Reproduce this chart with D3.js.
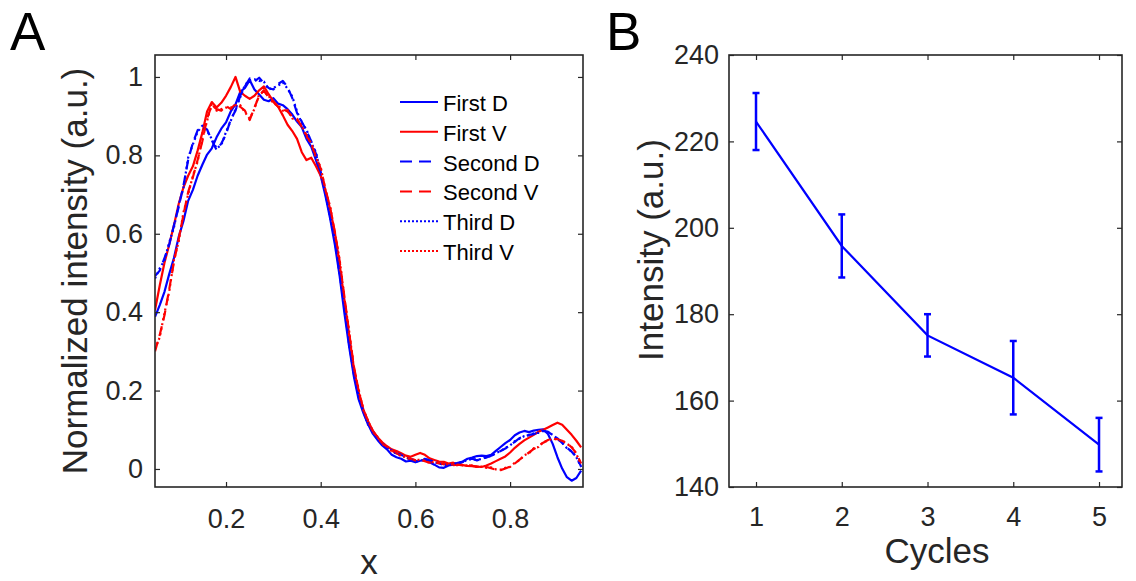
<!DOCTYPE html>
<html>
<head>
<meta charset="utf-8">
<script src="https://cdn.jsdelivr.net/npm/d3@7"></script>
<style>
  body { margin: 0; background: #fff; }
  svg { display: block; font-family: "Liberation Sans", Arial, sans-serif; }
  .tick text { fill: #262626; }
</style>
</head>
<body>
<svg id="chart" width="1136" height="581"></svg>
<script>
// ---- panel A data: profile position and the six normalized intensity traces ----
const xs = [0.05, 0.06, 0.07, 0.08, 0.09, 0.10, 0.11, 0.12, 0.13, 0.14,
  0.15, 0.16, 0.17, 0.18, 0.19, 0.20, 0.21, 0.22, 0.23, 0.24,
  0.25, 0.26, 0.27, 0.28, 0.29, 0.30, 0.31, 0.32, 0.33, 0.34,
  0.35, 0.36, 0.37, 0.38, 0.39, 0.40, 0.41, 0.42, 0.43, 0.44,
  0.45, 0.46, 0.47, 0.48, 0.49, 0.50, 0.51, 0.52, 0.53, 0.54,
  0.55, 0.56, 0.57, 0.58, 0.59, 0.60, 0.61, 0.62, 0.63, 0.64,
  0.65, 0.66, 0.67, 0.68, 0.69, 0.70, 0.71, 0.72, 0.73, 0.74,
  0.75, 0.76, 0.77, 0.78, 0.79, 0.80, 0.81, 0.82, 0.83, 0.84,
  0.85, 0.86, 0.87, 0.88, 0.89, 0.90, 0.91, 0.92, 0.93, 0.94, 0.95];

const firstD = [0.388, 0.418, 0.452, 0.497, 0.538, 0.592, 0.632, 0.684, 0.712, 0.748,
  0.776, 0.802, 0.818, 0.846, 0.868, 0.884, 0.912, 0.93, 0.962, 0.972,
  0.992, 0.968, 0.955, 0.942, 0.938, 0.946, 0.932, 0.928, 0.918, 0.904,
  0.886, 0.872, 0.842, 0.822, 0.788, 0.748, 0.697, 0.638, 0.572, 0.492,
  0.398, 0.312, 0.236, 0.178, 0.143, 0.114, 0.09, 0.074, 0.06, 0.05,
  0.036, 0.03, 0.026, 0.019, 0.021, 0.017, 0.021, 0.023, 0.017, 0.011,
  0.004, 0.003, 0.009, 0.011, 0.016, 0.019, 0.026, 0.029, 0.033, 0.034,
  0.033, 0.036, 0.046, 0.056, 0.066, 0.074, 0.086, 0.093, 0.097, 0.094,
  0.098, 0.1, 0.101, 0.089, 0.064, 0.03, 0.001, -0.021, -0.03, -0.023, -0.004];

const firstV = [0.405, 0.468, 0.526, 0.572, 0.622, 0.676, 0.718, 0.748, 0.772, 0.812,
  0.858, 0.912, 0.936, 0.922, 0.934, 0.952, 0.974, 1.0, 0.962, 0.952,
  0.944, 0.952, 0.966, 0.976, 0.956, 0.938, 0.924, 0.902, 0.878, 0.862,
  0.842, 0.808, 0.788, 0.794, 0.772, 0.748, 0.712, 0.662, 0.602, 0.522,
  0.432, 0.342, 0.258, 0.196, 0.152, 0.122, 0.098, 0.081, 0.068, 0.058,
  0.05, 0.046, 0.04, 0.034, 0.031, 0.036, 0.041, 0.036, 0.027, 0.023,
  0.019, 0.018, 0.014, 0.016, 0.012, 0.01, 0.008, 0.007, 0.006, 0.005,
  0.009, 0.014, 0.02, 0.026, 0.032, 0.042, 0.054, 0.064, 0.073, 0.08,
  0.087, 0.095, 0.1, 0.106, 0.112, 0.118, 0.113, 0.1, 0.087, 0.072, 0.055];

const secondD = [0.492, 0.506, 0.538, 0.572, 0.622, 0.668, 0.722, 0.788, 0.832, 0.864,
  0.872, 0.866, 0.838, 0.814, 0.83, 0.854, 0.892, 0.914, 0.952, 0.976,
  0.996, 0.988, 0.998, 0.984, 0.972, 0.968, 0.982, 0.99, 0.974, 0.946,
  0.908, 0.886, 0.862, 0.836, 0.804, 0.758, 0.702, 0.646, 0.582, 0.502,
  0.412, 0.322, 0.242, 0.186, 0.146, 0.116, 0.093, 0.078, 0.064, 0.054,
  0.046, 0.04, 0.036, 0.029, 0.025, 0.021, 0.019, 0.026, 0.022, 0.018,
  0.014, 0.012, 0.01, 0.013, 0.014, 0.018, 0.023, 0.026, 0.022, 0.026,
  0.029, 0.034, 0.039, 0.046, 0.052, 0.061, 0.069, 0.079, 0.082, 0.087,
  0.089, 0.093, 0.097, 0.095, 0.086, 0.078, 0.066, 0.054, 0.044, 0.031, 0.006];

const secondV = [0.3, 0.342, 0.392, 0.458, 0.528, 0.586, 0.648, 0.706, 0.744, 0.788,
  0.836, 0.894, 0.928, 0.918, 0.914, 0.926, 0.918, 0.932, 0.924, 0.914,
  0.89, 0.922, 0.952, 0.966, 0.948, 0.936, 0.924, 0.918, 0.912, 0.898,
  0.894, 0.872, 0.852, 0.828, 0.798, 0.766, 0.714, 0.666, 0.604, 0.53,
  0.44, 0.348, 0.262, 0.2, 0.153, 0.121, 0.097, 0.08, 0.066, 0.056,
  0.047, 0.04, 0.034, 0.029, 0.026, 0.022, 0.025, 0.02, 0.016, 0.018,
  0.015, 0.012, 0.013, 0.01, 0.011, 0.009, 0.01, 0.008, 0.006, 0.004,
  0.005, 0.002, -0.002, -0.003, 0.001, 0.006, 0.014, 0.024, 0.033, 0.042,
  0.051, 0.058, 0.067, 0.074, 0.077, 0.076, 0.072, 0.066, 0.055, 0.04, 0.014];

const thirdD = [0.486, 0.512, 0.532, 0.578, 0.616, 0.674, 0.716, 0.794, 0.828, 0.86,
  0.876, 0.862, 0.842, 0.818, 0.826, 0.86, 0.888, 0.918, 0.948, 0.98,
  0.992, 0.994, 0.99, 0.988, 0.968, 0.972, 0.978, 0.986, 0.97, 0.95,
  0.912, 0.882, 0.866, 0.832, 0.808, 0.754, 0.706, 0.642, 0.586, 0.498,
  0.416, 0.318, 0.246, 0.182, 0.148, 0.113, 0.095, 0.076, 0.066, 0.052,
  0.048, 0.038, 0.037, 0.027, 0.026, 0.019, 0.021, 0.024, 0.023, 0.016,
  0.015, 0.01, 0.011, 0.012, 0.016, 0.017, 0.024, 0.025, 0.024, 0.025,
  0.031, 0.033, 0.041, 0.045, 0.054, 0.06, 0.071, 0.077, 0.084, 0.086,
  0.091, 0.092, 0.098, 0.094, 0.087, 0.077, 0.067, 0.053, 0.045, 0.03, 0.005];

const thirdV = [0.306, 0.336, 0.398, 0.452, 0.534, 0.58, 0.654, 0.7, 0.748, 0.784,
  0.842, 0.888, 0.932, 0.914, 0.918, 0.922, 0.922, 0.928, 0.928, 0.91,
  0.894, 0.918, 0.956, 0.962, 0.952, 0.932, 0.928, 0.914, 0.916, 0.894,
  0.89, 0.876, 0.848, 0.832, 0.794, 0.77, 0.71, 0.67, 0.6, 0.534,
  0.436, 0.352, 0.258, 0.204, 0.15, 0.123, 0.095, 0.082, 0.064, 0.057,
  0.045, 0.042, 0.032, 0.031, 0.024, 0.024, 0.023, 0.021, 0.015, 0.019,
  0.013, 0.014, 0.011, 0.012, 0.009, 0.011, 0.008, 0.009, 0.005, 0.006,
  0.003, 0.004, -0.001, -0.002, 0.003, 0.005, 0.016, 0.022, 0.035, 0.04,
  0.053, 0.056, 0.069, 0.072, 0.078, 0.074, 0.073, 0.064, 0.057, 0.038, 0.012];

const seriesNames = ["First D", "First V", "Second D", "Second V", "Third D", "Third V"];
const seriesValues = [firstD, firstV, secondD, secondV, thirdD, thirdV];

const aXTicks = [0.2, 0.4, 0.6, 0.8];
const aYTicks = [0, 0.2, 0.4, 0.6, 0.8, 1];

// ---- panel B data ----
const cycles = [1, 2, 3, 4, 5];
const intensity = [224.6, 195.8, 175.1, 165.3, 149.8];
const intensityErr = [6.6, 7.3, 4.9, 8.5, 6.2];
const bXTicks = [1, 2, 3, 4, 5];
const bYTicks = [140, 160, 180, 200, 220, 240];

// styles
const axisColor = "#262626";
const seriesStyle = [
  { color: "#0000ff", dash: null, legendDash: null },
  { color: "#ff0000", dash: null, legendDash: null },
  { color: "#0000ff", dash: "10,6", legendDash: "12,7" },
  { color: "#ff0000", dash: "10,6", legendDash: "12,7" },
  { color: "#0000ff", dash: "2,3", legendDash: "2,2" },
  { color: "#ff0000", dash: "2,3", legendDash: "2,2" }
];

const svg = d3.select("#chart");
svg.append("rect").attr("width", 1136).attr("height", 581).attr("fill", "#fff");

function styleAxis(g) {
  g.select(".domain").remove();
  g.selectAll(".tick line").attr("stroke", axisColor).attr("stroke-width", 1.2);
  g.selectAll(".tick text").style("font-size", "27px");
}

function drawFrame(x, y, xTicks, yTicks, opts) {
  const [x0, x1] = x.range();
  const [y0, y1] = y.range();
  const fmt = d => String(d);

  svg.append("g")
    .attr("transform", `translate(0,${y0})`)
    .call(d3.axisBottom(x).tickValues(xTicks).tickFormat(fmt).tickSizeInner(-5).tickSizeOuter(0).tickPadding(opts.xPad))
    .call(styleAxis);
  svg.append("g")
    .attr("transform", `translate(0,${y1})`)
    .call(d3.axisTop(x).tickValues(xTicks).tickFormat("").tickSizeInner(-5).tickSizeOuter(0))
    .call(styleAxis);
  svg.append("g")
    .attr("transform", `translate(${x0},0)`)
    .call(d3.axisLeft(y).tickValues(yTicks).tickFormat(fmt).tickSizeInner(-5).tickSizeOuter(0).tickPadding(opts.yPad))
    .call(styleAxis);
  svg.append("g")
    .attr("transform", `translate(${x1},0)`)
    .call(d3.axisRight(y).tickValues(yTicks).tickFormat("").tickSizeInner(-5).tickSizeOuter(0))
    .call(styleAxis);

  svg.append("rect")
    .attr("x", x0).attr("y", y1)
    .attr("width", x1 - x0).attr("height", y0 - y1)
    .attr("fill", "none")
    .attr("stroke", axisColor)
    .attr("stroke-width", 1.6);
}

// ================= Panel A =================
const xA = d3.scaleLinear().domain([0.05, 0.954]).range([155, 583]);
const yA = d3.scaleLinear().domain([-0.046, 1.056]).range([487, 55]);

svg.append("clipPath").attr("id", "clipA")
  .append("rect").attr("x", 155).attr("y", 55).attr("width", 428).attr("height", 432);

const lineA = d3.line()
  .x((d, i) => xA(xs[i]))
  .y(d => yA(d));

const curves = svg.append("g").attr("clip-path", "url(#clipA)");
seriesValues.forEach((vals, i) => {
  curves.append("path")
    .datum(vals)
    .attr("d", lineA)
    .attr("fill", "none")
    .attr("stroke", seriesStyle[i].color)
    .attr("stroke-width", 2.2)
    .attr("stroke-linejoin", "round")
    .attr("stroke-dasharray", seriesStyle[i].dash);
});

drawFrame(xA, yA, aXTicks, aYTicks, { xPad: 22, yPad: 12 });

// legend
const legend = svg.append("g").attr("transform", "translate(400,103)");
seriesNames.forEach((name, i) => {
  const row = legend.append("g").attr("transform", `translate(0,${i * 29.8})`);
  row.append("line")
    .attr("x1", 0).attr("x2", 38)
    .attr("y1", -1).attr("y2", -1)
    .attr("stroke", seriesStyle[i].color)
    .attr("stroke-width", 2)
    .attr("stroke-dasharray", seriesStyle[i].legendDash);
  row.append("text")
    .attr("x", 43).attr("y", 8)
    .style("font-size", "22px")
    .attr("fill", "#000")
    .text(name);
});

svg.append("text")
  .attr("transform", "translate(87,271) rotate(-90)")
  .attr("text-anchor", "middle")
  .style("font-size", "35px")
  .attr("fill", axisColor)
  .text("Normalized intensity (a.u.)");

svg.append("text")
  .attr("x", 369).attr("y", 574)
  .attr("text-anchor", "middle")
  .style("font-size", "35px")
  .attr("fill", axisColor)
  .text("x");

svg.append("text")
  .attr("x", 10).attr("y", 50)
  .style("font-size", "53px")
  .attr("fill", "#000")
  .text("A");

// ================= Panel B =================
const xB = d3.scaleLinear().domain([0.685, 5.268]).range([729, 1122]);
const yB = d3.scaleLinear().domain([140, 240]).range([487, 55]);

const bData = cycles.map((c, i) => ({ c: c, v: intensity[i], e: intensityErr[i] }));

svg.append("path")
  .datum(bData)
  .attr("d", d3.line().x(d => xB(d.c)).y(d => yB(d.v)))
  .attr("fill", "none")
  .attr("stroke", "#0000ff")
  .attr("stroke-width", 2.2);

const bars = svg.append("g").attr("stroke", "#0000ff").attr("stroke-width", 2.5);
bars.selectAll("line.err")
  .data(bData)
  .enter().append("line")
  .attr("class", "err")
  .attr("x1", d => xB(d.c)).attr("x2", d => xB(d.c))
  .attr("y1", d => yB(d.v - d.e)).attr("y2", d => yB(d.v + d.e));
bars.selectAll("line.capTop")
  .data(bData)
  .enter().append("line")
  .attr("class", "capTop")
  .attr("x1", d => xB(d.c) - 3.5).attr("x2", d => xB(d.c) + 3.5)
  .attr("y1", d => yB(d.v + d.e)).attr("y2", d => yB(d.v + d.e));
bars.selectAll("line.capBot")
  .data(bData)
  .enter().append("line")
  .attr("class", "capBot")
  .attr("x1", d => xB(d.c) - 3.5).attr("x2", d => xB(d.c) + 3.5)
  .attr("y1", d => yB(d.v - d.e)).attr("y2", d => yB(d.v - d.e));

drawFrame(xB, yB, bXTicks, bYTicks, { xPad: 20, yPad: 10 });

svg.append("text")
  .attr("transform", "translate(663,250) rotate(-90)")
  .attr("text-anchor", "middle")
  .style("font-size", "35px")
  .attr("fill", axisColor)
  .text("Intensity (a.u.)");

svg.append("text")
  .attr("x", 937).attr("y", 563)
  .attr("text-anchor", "middle")
  .style("font-size", "35px")
  .attr("fill", axisColor)
  .text("Cycles");

svg.append("text")
  .attr("x", 606).attr("y", 50)
  .style("font-size", "53px")
  .attr("fill", "#000")
  .text("B");
</script>
</body>
</html>
